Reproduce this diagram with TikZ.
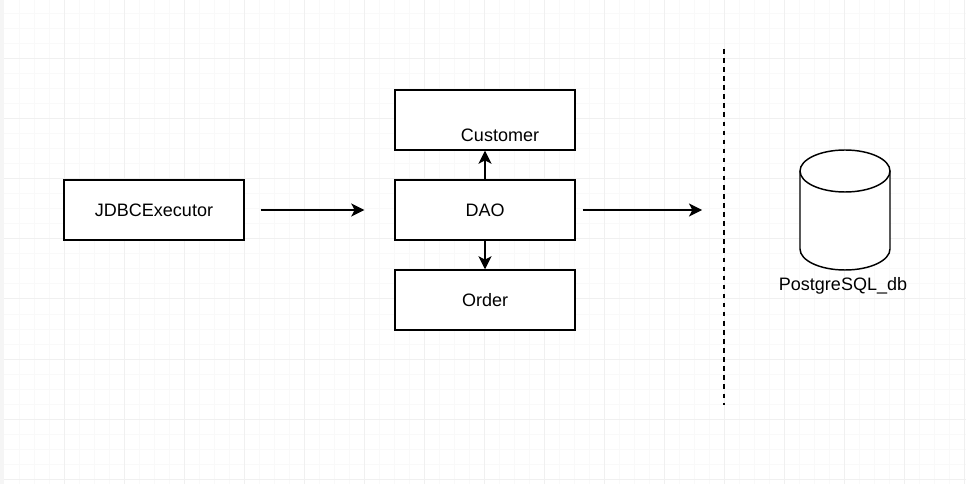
\documentclass[tikz,border=0pt]{standalone}
\usepackage{fontspec}
\setmainfont{Liberation Sans}
\usetikzlibrary{arrows.meta}
\begin{document}
\begin{tikzpicture}[x=0.75pt, y=-0.75pt, font=\fontsize{13.5}{16}\selectfont]
\useasboundingbox (0,0) rectangle (966,484);
% background grid
\fill[white] (0,0) rectangle (966,484);
\foreach \x in {19,34,...,964} \draw[gray!5, line width=0.75pt] (\x,0) -- (\x,484);
\foreach \y in {14,29,...,479} \draw[gray!5, line width=0.75pt] (4,\y) -- (966,\y);
\foreach \x in {64,124,...,964} \draw[gray!12, line width=0.75pt] (\x,0) -- (\x,484);
\foreach \y in {59,119,...,479} \draw[gray!12, line width=0.75pt] (4,\y) -- (966,\y);
\fill[gray!8] (0,0) rectangle (4,484);
\begin{scope}[every node/.style = {draw, fill=white, line width=1.1pt, minimum width=135pt, minimum height=45pt, inner sep=0pt}]
\node (jdbc) at (154,210) {JDBCExecutor};
\node (cust) at (485,120) [label={[draw=none, fill=none, minimum size=0pt, xshift=11.25pt, yshift=-11.25pt]center:Customer}] {};
\node (dao) at (485,210) {DAO};
\node (ord) at (485,300) {Order};
\end{scope}
% database
\fill[white] (800,171) -- (800,249) arc[start angle=180, end angle=0, x radius=45, y radius=21] -- (890,171) arc[start angle=0, end angle=-180, x radius=45, y radius=21] -- cycle;
\draw[line width=1.1pt] (800,171) -- (800,249) arc[start angle=180, end angle=0, x radius=45, y radius=21] -- (890,171);
\draw[line width=1.1pt] (845,171) ellipse[x radius=45, y radius=21];
\node (db) at (843,286) {PostgreSQL\_db};
\coordinate (dbin) at (702,210);
\coordinate (septop) at (724,49);
\coordinate (sepbot) at (724,405);
\draw[line width=1.1pt, dash pattern=on 3.4pt off 3.4pt] (septop) -- (sepbot);
\begin{scope}[every edge/.style = {draw, line width=1.1pt, -{Stealth[length=9.75pt, width=9.75pt, inset=2.5pt]}}]
\path (jdbc) edge[shorten <=12pt, shorten >=22.5pt] (dao);
\path (dao) edge (cust);
\path (dao) edge (ord);
\path (dao) edge[shorten <=5.25pt] (dbin);
\end{scope}
\end{tikzpicture}
\end{document}
